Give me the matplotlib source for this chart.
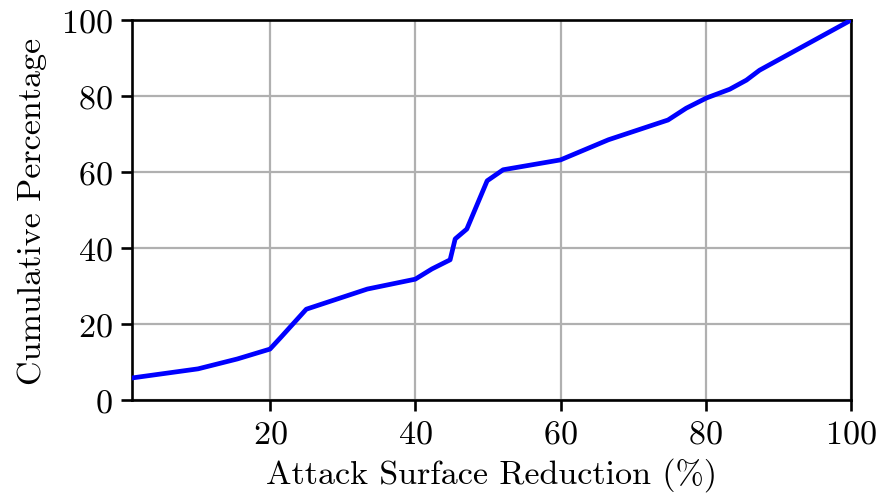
import matplotlib
matplotlib.use("Agg")
import matplotlib.pyplot as plt

plt.rcParams["font.family"] = ["cmr10", "DejaVu Serif"]
plt.rcParams["mathtext.fontset"] = "cm"
plt.rcParams["axes.formatter.use_mathtext"] = True
plt.rcParams["axes.unicode_minus"] = False

# cumulative distribution of attack surface reduction
reduction = [1.0, 10.1, 15.5, 20.0, 21.5, 25.0, 33.4, 40.0, 42.3, 44.8,
             45.5, 47.1, 49.9, 52.1, 60.0, 66.6, 74.8, 77.3, 80.1, 83.3,
             85.6, 87.4, 100.0]
cumulative = [5.8, 8.2, 10.8, 13.4, 16.5, 23.9, 29.2, 31.8, 34.5, 36.9,
              42.4, 45.0, 57.7, 60.6, 63.2, 68.5, 73.7, 76.8, 79.5, 81.8,
              84.2, 86.8, 100.0]

x_ticks = [20, 40, 60, 80, 100]
y_ticks = [0, 20, 40, 60, 80, 100]

fig = plt.figure(figsize=(8.81, 5.02), dpi=100)
ax = fig.add_axes([0.1498, 0.2012, 0.8162, 0.7568])

ax.plot(reduction, cumulative, color="blue", lw=3.4, zorder=3)

ax.set_xlim(reduction[0], 100)
ax.set_ylim(0, 100)
ax.set_xticks(x_ticks)
ax.set_yticks(y_ticks)
ax.grid(True, color="#b0b0b0", lw=1.6)
ax.set_axisbelow(True)

for s in ax.spines.values():
    s.set_linewidth(1.9)
ax.tick_params(width=1.9, length=8, pad=6, labelsize=24.5)

ax.set_xlabel("Attack Surface Reduction (%)", fontsize=24.5, labelpad=6)
ax.set_ylabel("Cumulative Percentage", fontsize=24.5, labelpad=10)

fig.savefig("out.png", dpi=100)
